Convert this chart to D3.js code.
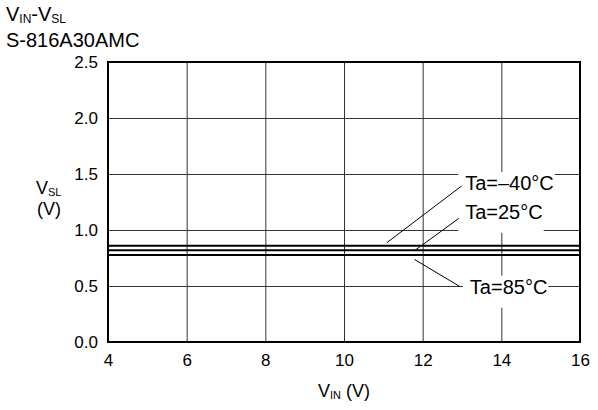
<!DOCTYPE html>
<html>
<head>
<meta charset="utf-8">
<script src="https://cdn.jsdelivr.net/npm/d3@7"></script>
<style>
  body { margin: 0; background: #fff; }
  svg text { font-family: "Liberation Sans", Arial, sans-serif; fill: #000; }
</style>
</head>
<body>
<svg id="chart" width="598" height="410"></svg>
<script>
var width = 598, height = 410
var margin = {top: 62, right: 18, bottom: 68, left: 108}

// data
var xTicks = [4, 6, 8, 10, 12, 14, 16]
var yTicks = [0.0, 0.5, 1.0, 1.5, 2.0, 2.5]
var temps = ["Ta=\u201340\u00b0C", "Ta=25\u00b0C", "Ta=85\u00b0C"]
var vslValues = [0.86, 0.819, 0.777]
var vinRange = [4, 16]
// leader lines [x1, y1, x2, y2] in data units, label anchor [x, y]
var leaders = [[11.09, 0.887, 12.99, 1.393], [11.79, 0.815, 12.92, 1.104], [11.79, 0.738, 12.95, 0.494]]
var labelPos = [[13.08, 1.42], [13.08, 1.163], [13.2, 0.494]]

var svg = d3.select("#chart")
var x = d3.scaleLinear().domain([4, 16]).range([margin.left, width - margin.right])
var y = d3.scaleLinear().domain([0, 2.5]).range([height - margin.bottom, margin.top])
var plotW = width - margin.left - margin.right
var plotH = height - margin.top - margin.bottom

// grid
svg.append("g")
  .attr("transform", "translate(0," + (height - margin.bottom) + ")")
  .call(d3.axisBottom(x).tickValues(xTicks).tickSize(-plotH).tickFormat(""))
  .call(g => g.select(".domain").remove())
  .selectAll("line").attr("stroke", "#333").attr("stroke-width", 1)

svg.append("g")
  .attr("transform", "translate(" + margin.left + ",0)")
  .call(d3.axisLeft(y).tickValues(yTicks).tickSize(-plotW).tickFormat(""))
  .call(g => g.select(".domain").remove())
  .selectAll("line").attr("stroke", "#333").attr("stroke-width", 1)

// tick labels
svg.append("g")
  .attr("transform", "translate(0," + (height - margin.bottom + 9) + ")")
  .call(d3.axisBottom(x).tickValues(xTicks).tickSize(0).tickFormat(d3.format("d")))
  .call(g => g.select(".domain").remove())
  .selectAll("text").style("font-size", "17px")

svg.append("g")
  .attr("transform", "translate(" + (margin.left - 7) + ",0)")
  .call(d3.axisLeft(y).tickValues(yTicks).tickSize(0).tickFormat(d3.format(".1f")))
  .call(g => g.select(".domain").remove())
  .selectAll("text").style("font-size", "17px")

// data lines
var line = d3.line().x(d => x(d[0])).y(d => y(d[1]))
svg.append("g").selectAll("path")
  .data(vslValues)
  .enter()
  .append("path")
  .attr("fill", "none")
  .attr("stroke", "#000")
  .attr("stroke-width", 2)
  .attr("d", d => line(vinRange.map(v => [v, d])))

// frame
svg.append("rect")
  .attr("x", margin.left).attr("y", margin.top)
  .attr("width", plotW).attr("height", plotH)
  .attr("fill", "none").attr("stroke", "#000").attr("stroke-width", 2)

// labels with white boxes
var lab = svg.append("g")
var boxes = lab.append("g")
temps.forEach(function(t, i) {
  var txt = lab.append("text")
    .attr("x", x(labelPos[i][0]))
    .attr("y", y(labelPos[i][1]))
    .attr("dy", "0.35em")
    .style("font-size", "20px")
    .text(t)
  var b = txt.node().getBBox()
  boxes.append("rect")
    .attr("x", b.x - 7).attr("y", b.y)
    .attr("width", b.width + 8).attr("height", b.height + 10)
    .attr("fill", "#fff")
})
lab.append("g").selectAll("line")
  .data(leaders)
  .enter()
  .append("line")
  .attr("x1", d => x(d[0])).attr("y1", d => y(d[1]))
  .attr("x2", d => x(d[2])).attr("y2", d => y(d[3]))
  .attr("stroke", "#000").attr("stroke-width", 1)

// titles
var t1 = svg.append("text").attr("x", 6).attr("y", 21).style("font-size", "20px")
t1.append("tspan").text("V")
t1.append("tspan").text("IN").style("font-size", "12px").attr("dy", 2)
t1.append("tspan").text("-V").attr("dy", -2)
t1.append("tspan").text("SL").style("font-size", "12px").attr("dy", 2)
svg.append("text").attr("x", 6).attr("y", 47).style("font-size", "20px").text("S-816A30AMC")

// y axis title
var yt = svg.append("text").attr("x", 36).attr("y", 194).style("font-size", "18px")
yt.append("tspan").text("V")
yt.append("tspan").text("SL").style("font-size", "11px").attr("dy", 2)
svg.append("text").attr("x", 49).attr("y", 215).attr("text-anchor", "middle").style("font-size", "18px").text("(V)")

// x axis title
var xt = svg.append("text").attr("x", 344).attr("y", 397).attr("text-anchor", "middle").style("font-size", "18px")
xt.append("tspan").text("V")
xt.append("tspan").text("IN").style("font-size", "11px").attr("dy", 2)
xt.append("tspan").text(" (V)").attr("dy", -2)
</script>
</body>
</html>
